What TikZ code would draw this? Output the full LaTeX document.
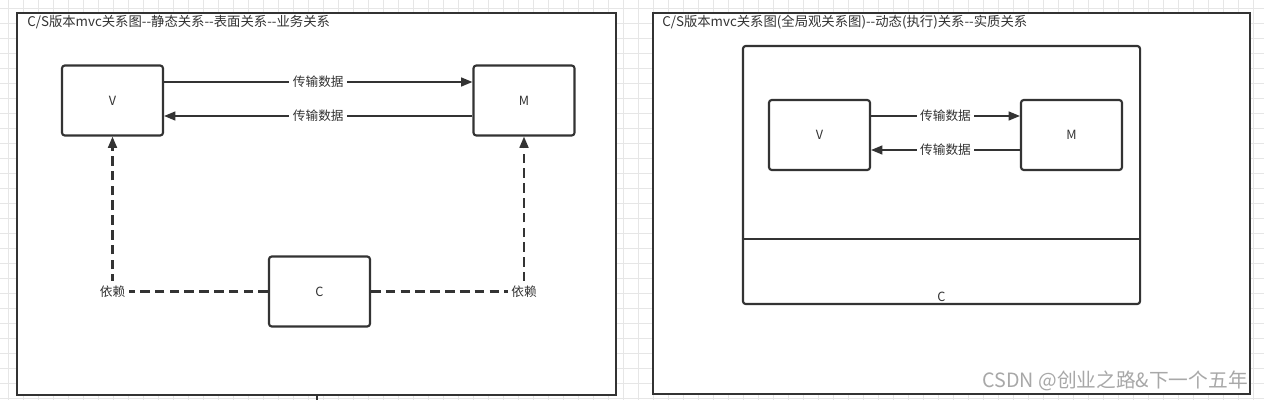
\documentclass[tikz,border=0pt]{standalone}
\usepackage{fontspec}
\newfontfamily\cjk{Noto Sans CJK SC}
\definecolor{inkgray}{HTML}{333333}
\definecolor{gridgray}{HTML}{E6E6E6}
\definecolor{markgray}{HTML}{A8A8A8}
\usetikzlibrary{arrows.meta,positioning}

\begin{document}
\begin{tikzpicture}[x=0.025cm, y=-0.025cm,
  gridline/.style={gridgray, line width=0.5pt},
  frame/.style={draw=inkgray, fill=white, line width=1.6pt},
  box/.style={rectangle, draw=inkgray, fill=white, line width=1.5pt,
    rounded corners=2pt, minimum width=2.525cm, minimum height=1.75cm,
    text=inkgray, font=\cjk\fontsize{9}{11}\selectfont},
  title/.style={anchor=west, inner sep=0pt, text=inkgray,
    font=\cjk\fontsize{9.5}{11}\selectfont},
  lbl/.style={fill=white, inner xsep=2.5pt, inner ysep=1.5pt, text=inkgray,
    font=\cjk\fontsize{9}{11}\selectfont},
  arr/.style={-{Triangle[length=0.28cm, width=0.22cm]}, inkgray, line width=1.2pt},
  dep/.style={-{Triangle[length=0.28cm, width=0.22cm]}, inkgray, line width=1.5pt,
    dash pattern=on 0.24cm off 0.13cm}
]
  \useasboundingbox (0,0) rectangle (1264,400);
  \fill[white] (0,0) rectangle (1264,400);
  \foreach \gx in {8,23,...,1264} \draw[gridline] (\gx,0) -- (\gx,400);
  \foreach \gy in {8,23,...,400} \draw[gridline] (0,\gy) -- (1264,\gy);

  % static view
  \draw[frame] (17,13) rectangle (616,395);
  \draw[inkgray, line width=1.6pt] (317,395) -- (317,400);
  \node[title] (t1) at (27,22) {C/S版本mvc关系图--静态关系--表面关系--业务关系};
  \node[box] (v) at (112.5,100.5) {V};
  \node[box] (m) at (524,100.5) {M};
  \node[box] (c) at (319.5,291.5) {C};
  \draw[arr] ([yshift=0.4625cm]v.east) -- node[lbl] {传输数据} ([yshift=0.4625cm]m.west);
  \draw[arr] ([yshift=-0.3875cm]m.west) -- node[lbl] {传输数据} ([yshift=-0.3875cm]v.east);
  \draw[dep] (c) -| node[lbl, pos=0.5, inner ysep=3pt] {依赖} (v);
  \draw[dep] (c) -| node[lbl, pos=0.5, inner ysep=3pt] {依赖} (m);

  % dynamic view
  \draw[frame] (653,13) rectangle (1250,394);
  \node[title] (t2) at (662,22) {C/S版本mvc关系图(全局观关系图)--动态(执行)关系--实质关系};
  \node[box, minimum width=9.925cm, minimum height=6.45cm] (c2) at (941.5,175) {};
  \coordinate (div) at (0,239);
  \draw[inkgray, line width=1.5pt] (c2.west |- div) -- (c2.east |- div);
  \node[lbl, fill=none] (c2lbl) at (941.5,297) {C};
  \node[box] (v2) at (819.5,135) {V};
  \node[box] (m2) at (1071.5,135) {M};
  \draw[arr] ([yshift=0.475cm]v2.east) -- node[lbl] {传输数据} ([yshift=0.475cm]m2.west);
  \draw[arr] ([yshift=-0.375cm]m2.west) -- node[lbl] {传输数据} ([yshift=-0.375cm]v2.east);

  \node[anchor=east, inner sep=0pt, text=markgray,
    font=\cjk\fontsize{14}{16}\selectfont] (wm) at (1248,381) {CSDN @创业之路\&下一个五年};
\end{tikzpicture}
\end{document}
